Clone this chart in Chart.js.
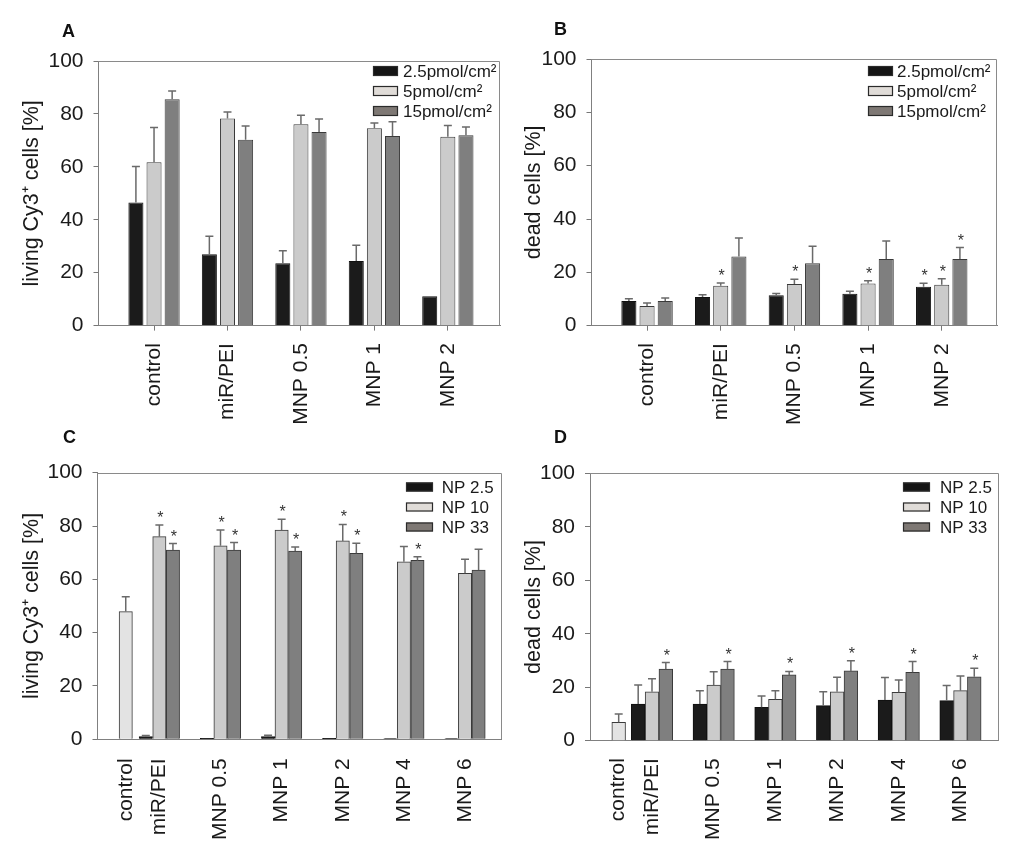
<!DOCTYPE html>
<html><head><meta charset="utf-8">
<script src="https://cdn.jsdelivr.net/npm/chart.js@4.4.1/dist/chart.umd.min.js"></script>
<style>
html,body{margin:0;padding:0;background:#fff;}
#wrap{position:relative;width:1024px;height:862px;overflow:hidden;background:#fff;}
canvas{position:absolute;}
.lbl{position:absolute;font:bold 18px "Liberation Sans",Arial,sans-serif;line-height:18px;color:#111;}
</style></head><body>
<div id="wrap">
<canvas id="cA" width="512" height="431" style="left:0;top:0"></canvas>
<canvas id="cB" width="512" height="431" style="left:512px;top:0"></canvas>
<canvas id="cC" width="512" height="431" style="left:0;top:431px"></canvas>
<canvas id="cD" width="512" height="431" style="left:512px;top:431px"></canvas>
<div class="lbl" style="left:62px;top:21.5px">A</div>
<div class="lbl" style="left:554px;top:20px">B</div>
<div class="lbl" style="left:63px;top:428px">C</div>
<div class="lbl" style="left:554px;top:428px">D</div>
</div>
<script>
// ---------- data ----------
const categoriesAB = ['control', 'miR/PEI', 'MNP 0.5', 'MNP 1', 'MNP 2'];
const seriesAB = ['2.5pmol/cm\u00B2', '5pmol/cm\u00B2', '15pmol/cm\u00B2'];

// Panel A: living Cy3+ cells [%]
const aLow = [46.5, 27.0, 23.6, 24.4, 11.1];
const aLowSd = [13.6, 6.8, 4.7, 6.0, 0];
const aMid = [61.7, 78.3, 76.1, 74.6, 71.4];
const aMidSd = [13.2, 2.4, 3.4, 2.0, 4.2];
const aHigh = [85.5, 70.2, 73.2, 71.7, 71.9];
const aHighSd = [3.2, 5.2, 4.9, 5.3, 3.2];

// Panel B: dead cells [%]
const bLow = [9.3, 10.8, 11.4, 12.0, 14.6];
const bLowSd = [0.8, 0.8, 0.7, 0.9, 1.3];
const bLowSig = [false, false, false, false, true];
const bMid = [7.4, 15.0, 15.6, 15.8, 15.4];
const bMidSd = [1.1, 1.0, 1.8, 1.1, 2.2];
const bMidSig = [false, true, true, true, true];
const bHigh = [9.3, 25.9, 23.4, 25.0, 25.0];
const bHighSd = [1.1, 7.0, 6.4, 6.8, 4.3];
const bHighSig = [false, false, false, false, true];

const categoriesCD = ['control', 'miR/PEI', 'MNP 0.5', 'MNP 1', 'MNP 2', 'MNP 4', 'MNP 6'];
const seriesCD = ['NP 2.5', 'NP 10', 'NP 33'];

// Panel C: living Cy3+ cells [%]  (control only has the NP 10 value)
const cLow = [null, 1.0, 0.4, 1.0, 0.4, 0.3, 0.3];
const cLowSd = [null, 0.4, 0, 0.5, 0, 0, 0];
const cMid = [47.9, 76.0, 72.6, 78.5, 74.4, 66.6, 62.3];
const cMidSd = [5.6, 4.4, 5.9, 4.0, 6.2, 5.7, 5.2];
const cMidSig = [false, true, true, true, true, false, false];
const cHigh = [null, 71.0, 71.0, 70.6, 69.8, 67.1, 63.5];
const cHighSd = [null, 2.4, 2.8, 1.5, 3.7, 1.4, 7.8];
const cHighSig = [false, true, true, true, true, true, false];

// Panel D: dead cells [%]
const dLow = [null, 13.7, 13.7, 12.5, 13.1, 15.2, 15.0];
const dLowSd = [null, 7.1, 5.0, 4.2, 5.2, 8.4, 5.6];
const dMid = [6.9, 18.3, 20.8, 15.5, 18.3, 18.1, 18.7];
const dMidSd = [3.1, 4.9, 5.0, 3.2, 5.4, 4.6, 5.5];
const dHigh = [null, 26.8, 26.8, 24.6, 26.1, 25.6, 23.9];
const dHighSd = [null, 2.4, 2.8, 1.3, 3.8, 4.0, 3.2];
const dHighSig = [false, true, true, true, true, true, true];

const yTicks = [0, 20, 40, 60, 80, 100];

// ---------- styles ----------
const FONT = '"Liberation Sans", Arial, sans-serif';
const COL = {
  low: '#1b1b1b', mid: '#cbcbcb', high: '#7f7f7f', ctrl: '#e3e3e3',
  legLow: '#151515', legMid: '#e0dcd8', legHigh: '#7e7874',
  border: '#3a3a3a', text: '#1a1a1a', axis: '#808080'
};

// ---------- plugins ----------
const framePlugin = {
  id: 'frame',
  afterDraw(chart) {
    const a = chart.chartArea, c = chart.ctx;
    c.save();
    c.strokeStyle = '#8a8a8a'; c.lineWidth = 1;
    c.beginPath();
    c.moveTo(a.left, Math.round(a.top) + 0.5);
    c.lineTo(Math.round(a.right) - 0.5, Math.round(a.top) + 0.5);
    c.lineTo(Math.round(a.right) - 0.5, a.bottom);
    c.stroke();
    c.restore();
  }
};

const errPlugin = {
  id: 'err',
  afterDatasetsDraw(chart) {
    const ctx = chart.ctx;
    const ys = chart.scales.y;
    chart.data.datasets.forEach((ds, i) => {
      if (!ds.sd) return;
      const meta = chart.getDatasetMeta(i);
      meta.data.forEach((bar, j) => {
        const pt = ds.data[j];
        if (!pt || pt.y == null) return;
        const s = ds.sd[j] || 0;
        const yTop = ys.getPixelForValue(pt.y + s);
        ctx.save();
        if (s > 0) {
          ctx.strokeStyle = '#6a6a6a';
          ctx.lineWidth = 1.5;
          ctx.beginPath();
          ctx.moveTo(bar.x, bar.y);
          ctx.lineTo(bar.x, yTop);
          ctx.moveTo(bar.x - 4, yTop);
          ctx.lineTo(bar.x + 4, yTop);
          ctx.stroke();
        }
        if (ds.sig && ds.sig[j]) {
          ctx.fillStyle = '#333';
          ctx.font = '16px ' + FONT;
          ctx.textAlign = 'center';
          ctx.textBaseline = 'alphabetic';
          ctx.fillText('*', bar.x + 1, yTop - 2);
        }
        ctx.restore();
      });
    });
  }
};

const legendPlugin = {
  id: 'boxLegend',
  afterDraw(chart, args, o) {
    const ctx = chart.ctx, a = chart.chartArea;
    let row = 0;
    ctx.save();
    ctx.font = '17px ' + FONT;
    ctx.textBaseline = 'middle';
    ctx.textAlign = 'left';
    chart.data.datasets.forEach(ds => {
      if (ds.inLegend === false) return;
      const x = Math.round(a.right + o.dx), y = Math.round(a.top + o.dy + row * o.step);
      ctx.fillStyle = ds.legendColor;
      ctx.fillRect(x, y - o.bh / 2, o.bw, o.bh);
      ctx.strokeStyle = '#2a2a2a'; ctx.lineWidth = 1.2;
      ctx.strokeRect(x + 0.5, y - o.bh / 2 + 0.5, o.bw - 1, o.bh - 1);
      ctx.fillStyle = COL.text;
      ctx.fillText(ds.label, x + o.bw + o.gap, y + 1);
      row++;
    });
    ctx.restore();
  }
};

// ---------- builder ----------
function makeChart(id, c) {
  const scales = {
    x: {
      type: 'linear', min: c.xMin, max: c.xMax, offset: false,
      afterBuildTicks: s => { s.ticks = c.tickPos.map(v => ({ value: v })); },
      afterFit: s => { s.height = c.xHeight; },
      grid: { offset: false, drawOnChartArea: false, drawTicks: c.xTickMarks, tickLength: 5, tickColor: '#777', color: '#777' },
      border: { display: true, color: COL.axis, width: 1 },
      ticks: {
        autoSkip: false, minRotation: 90, maxRotation: 90, padding: c.xPad,
        color: COL.text, font: { family: FONT, size: 21 },
        callback: (v, i) => c.tickLabels[i]
      }
    },
    y: {
      min: 0, max: 100,
      afterBuildTicks: s => { s.ticks = yTicks.map(v => ({ value: v })); },
      afterFit: s => { s.width = c.yWidth; },
      grid: { drawOnChartArea: false, drawTicks: true, tickLength: 5, tickColor: '#777' },
      border: { display: true, color: COL.axis, width: 1 },
      ticks: { padding: 10, color: COL.text, font: { family: FONT, size: 21 } },
      title: {
        display: true, text: c.yTitle, color: COL.text,
        font: { family: FONT, size: 21.5 }, padding: { top: c.titlePad, bottom: 0 }
      }
    }
  };
  const barOpts = c.barThickness
    ? { barThickness: c.barThickness, grouped: false }
    : { categoryPercentage: c.catPct, barPercentage: c.barPct };
  return new Chart(document.getElementById(id), {
    type: 'bar',
    data: { datasets: c.datasets },
    options: {
      responsive: false, animation: false, devicePixelRatio: 1,
      layout: { padding: { top: c.padTop, right: c.padRight, left: 0, bottom: 0 } },
      datasets: { bar: barOpts },
      plugins: {
        legend: { display: false }, tooltip: { enabled: false },
        boxLegend: c.legend
      },
      scales
    },
    plugins: [framePlugin, errPlugin, legendPlugin]
  });
}

function barDs(label, values, sd, sig, color, legendColor, xOf, border) {
  return {
    label, data: values.map((v, i) => ({ x: xOf(i), y: v })), sd, sig,
    backgroundColor: color, legendColor,
    borderColor: border || COL.border, borderWidth: 1
  };
}

// Panels A and B (grouped bars at integer category positions)
const posAB = categoriesAB.map((_, i) => i + 1);
const xAB = i => posAB[i];

makeChart('cA', {
  xMin: 0.244, xMax: 5.71, tickPos: posAB, tickLabels: categoriesAB,
  padTop: 61, padRight: 12, yWidth: 98.5, xHeight: 105.4,
  xTickMarks: true, xPad: 12.5, titlePad: 19,
  catPct: 0.74, barPct: 0.83,
  yTitle: 'living Cy3\u207A cells [%]',
  legend: { dx: -127, dy: 10, step: 20, bw: 25, bh: 10, gap: 5 },
  datasets: [
    barDs(seriesAB[0], aLow, aLowSd, null, COL.low, COL.legLow, xAB, '#111'),
    barDs(seriesAB[1], aMid, aMidSd, null, COL.mid, COL.legMid, xAB),
    barDs(seriesAB[2], aHigh, aHighSd, null, COL.high, COL.legHigh, xAB)
  ]
});

makeChart('cB', {
  xMin: 0.246, xMax: 5.75, tickPos: posAB, tickLabels: categoriesAB,
  padTop: 59, padRight: 27, yWidth: 79.5, xHeight: 105.3,
  xTickMarks: true, xPad: 12.5, titlePad: 9.6,
  catPct: 0.74, barPct: 0.83,
  yTitle: 'dead cells [%]',
  legend: { dx: -129, dy: 12, step: 20, bw: 25, bh: 10, gap: 4 },
  datasets: [
    barDs(seriesAB[0], bLow, bLowSd, bLowSig, COL.low, COL.legLow, xAB, '#111'),
    barDs(seriesAB[1], bMid, bMidSd, bMidSig, COL.mid, COL.legMid, xAB),
    barDs(seriesAB[2], bHigh, bHighSd, bHighSig, COL.high, COL.legHigh, xAB)
  ]
});

// Panels C and D: the single control bar sits just left of the miR/PEI group;
// the three series are laid side by side around each category position.
function cdConfig(ctrlPos, low, lowSd, mid, midSd, midSig, high, highSd, highSig, geo) {
  const pos = categoriesCD.map((_, i) => (i === 0 ? ctrlPos : i + 1));
  const xOf = k => i => pos[i] + (i === 0 ? 0 : (k - 1) * geo.stride);
  const midColors = mid.map((_, i) => (i === 0 ? COL.ctrl : COL.mid));
  return Object.assign({
    tickPos: pos, tickLabels: categoriesCD, xTickMarks: false,
    datasets: [
      barDs(seriesCD[0], low, lowSd, null, COL.low, COL.legLow, xOf(0), '#111'),
      barDs(seriesCD[1], mid, midSd, midSig, midColors, COL.legMid, xOf(1)),
      barDs(seriesCD[2], high, highSd, highSig, COL.high, COL.legHigh, xOf(2))
    ]
  }, geo);
}

makeChart('cC', cdConfig(1.45, cLow, cLowSd, cMid, cMidSd, cMidSig, cHigh, cHighSd, cHighSig, {
  xMin: 0.988, xMax: 7.6, padTop: 41.7, padRight: 10.3, yWidth: 97.5, xHeight: 122.7,
  xPad: 19, titlePad: 19.4, barThickness: 13.3, stride: 0.222,
  yTitle: 'living Cy3\u207A cells [%]',
  legend: { dx: -95.7, dy: 14.6, step: 20, bw: 27, bh: 9, gap: 8.7 }
}));

makeChart('cD', cdConfig(1.46, dLow, dLowSd, dMid, dMidSd, null, dHigh, dHighSd, dHighSig, {
  xMin: 0.995, xMax: 7.62, padTop: 42.3, padRight: 25.3, yWidth: 78, xHeight: 121.3,
  xPad: 17.5, titlePad: 8.8, barThickness: 13.7, stride: 0.224,
  yTitle: 'dead cells [%]',
  legend: { dx: -96, dy: 14, step: 20, bw: 27, bh: 9, gap: 10 }
}));
</script>
</body></html>
